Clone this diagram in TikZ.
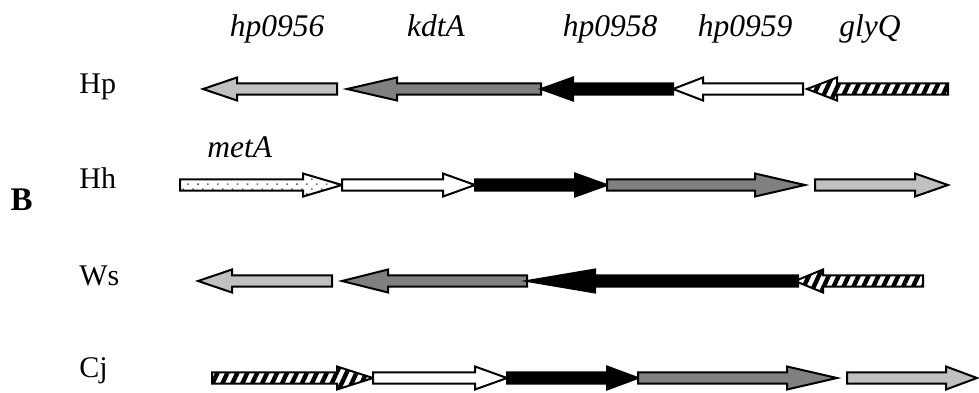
\documentclass[tikz,border=0pt]{standalone}
\usepackage{fontspec}
\setmainfont{Liberation Serif}
\usetikzlibrary{patterns.meta}

\definecolor{lightgene}{RGB}{192,192,192}
\definecolor{darkgene}{RGB}{128,128,128}

% one gene arrow: style, tail x, head-base x, tip x, centre y
\newcommand\genearrow[5]{%
  \draw[genebase,#1] (#2,#5-5.6) -- (#3,#5-5.6) -- (#3,#5-11.5) -- (#4,#5)
    -- (#3,#5+11.5) -- (#3,#5+5.6) -- (#2,#5+5.6) -- cycle;}

\tikzset{
  genebase/.style={draw=black, line width=1pt, line join=miter},
  lightg/.style={fill=lightgene},
  darkg/.style={fill=darkgene},
  blackg/.style={fill=black},
  whiteg/.style={fill=white},
  hatchg/.style={preaction={fill=white},
    pattern={Lines[angle=65,distance=4.5pt,line width=2.2pt]},
    pattern color=black},
  dotg/.style={preaction={fill=white},
    pattern={Dots[angle=45,distance=3.5pt,radius=0.55pt]},
    pattern color=gray!80!black},
  genelabel/.style={font=\fontsize{15.75}{19}\selectfont\itshape, anchor=base, inner sep=0pt},
  species/.style={font=\fontsize{15}{18}\selectfont, anchor=base west, inner sep=0pt},
  panel/.style={font=\fontsize{16.5}{20}\selectfont\bfseries, anchor=base east, inner sep=0pt}
}

\begin{document}
\begin{tikzpicture}[x=0.5pt,y=-0.5pt]
\useasboundingbox (0,0) rectangle (979,392);

% gene names
\node[genelabel] (l0956) at (277,36) {hp0956};
\node[genelabel] (lkdtA) at (436,36) {kdtA};
\node[genelabel] (l0958) at (610,36) {hp0958};
\node[genelabel] (l0959) at (745,36) {hp0959};
\node[genelabel] (lglyQ) at (870,36) {glyQ};
\node[genelabel, anchor=base west] (lmetA) at (207,157) {metA};

% organisms and panel letter
\node[species] (sHp) at (79,93) {Hp};
\node[species] (sHh) at (79,188) {Hh};
\node[species] (sWs) at (79,285) {Ws};
\node[species] (sCj) at (79,377) {Cj};
\node[panel] (pB) at (33,210) {B};

% Hp
\genearrow{lightg}{337}{237}{203}{89}
\genearrow{darkg}{541}{397}{347}{89}
\genearrow{blackg}{673}{573}{541}{89}
\genearrow{whiteg}{803}{703}{673}{89}
\genearrow{hatchg}{948}{837}{807}{89}

% Hh
\genearrow{dotg}{180}{303}{342}{185}
\genearrow{whiteg}{342}{443}{475}{185}
\genearrow{blackg}{475}{575}{607}{185}
\genearrow{darkg}{607}{755}{805}{185}
\genearrow{lightg}{815}{915}{948}{185}

% Ws
\genearrow{lightg}{332}{232}{198}{281}
\genearrow{darkg}{527}{388}{342}{281}
\genearrow{blackg}{798}{595}{527}{281}
\genearrow{hatchg}{923}{823}{795}{281}

% Cj
\genearrow{hatchg}{212}{337}{373}{378}
\genearrow{whiteg}{373}{475}{507}{378}
\genearrow{blackg}{507}{607}{638}{378}
\genearrow{darkg}{638}{787}{837}{378}
\genearrow{lightg}{847}{946}{977}{378}
\end{tikzpicture}
\end{document}
